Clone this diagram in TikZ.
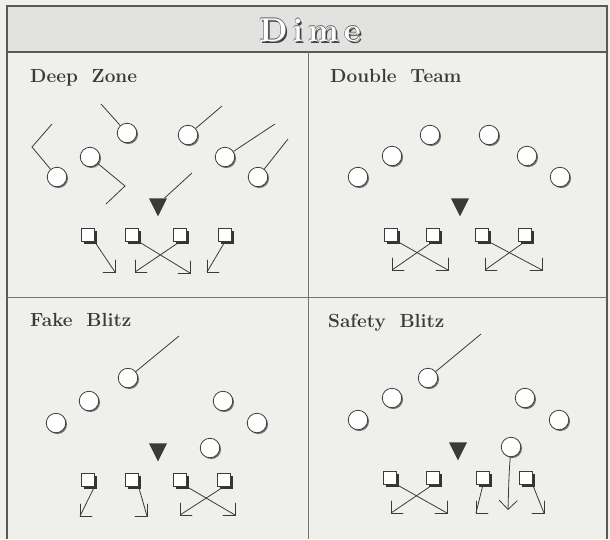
\documentclass[tikz,border=0pt]{standalone}
\usepackage{tikz}
\usetikzlibrary{arrows.meta,shadows,shapes.geometric,positioning}
\definecolor{papel}{HTML}{EFEFEC}
\definecolor{banda}{HTML}{E2E2E0}
\definecolor{tinta}{HTML}{3A3A3A}
\tikzset{
  marco/.style={draw=black!65,line width=1.4pt},
  linea/.style={draw=black!55,line width=0.8pt},
  defensa/.style={circle,draw=tinta,fill=white,line width=0.8pt,minimum size=19.5pt,inner sep=0pt,
    drop shadow={shadow xshift=1.3pt,shadow yshift=-1.3pt,fill=black!55,opacity=1}},
  ataque/.style={rectangle,draw=tinta,fill=white,line width=0.6pt,minimum size=12.5pt,inner sep=0pt,
    drop shadow={shadow xshift=2.4pt,shadow yshift=-2.4pt,fill=black!80,opacity=1}},
  centro/.style={isosceles triangle,isosceles triangle apex angle=53,isosceles triangle stretches,
    shape border rotate=-90,fill=tinta,inner sep=0pt,minimum width=18pt,minimum height=18pt},
  ruta/.style={draw=tinta,line width=0.8pt},
  flecha/.style={ruta,-{Straight Barb[length=9pt,width=18pt,line width=0.8pt]}},
  punta/.pic={\draw[ruta,line cap=round] (-12,0) -- (0,0) -- (0,-12);},
  jugada/.style={font=\bfseries\fontsize{19}{21}\selectfont,text=tinta,anchor=base west,inner sep=0pt},
  dime/.style={font=\bfseries\fontsize{33}{36}\selectfont,inner sep=0pt}
}
\newcommand{\dimetext}{D\hspace{5pt}i\hspace{5pt}m\hspace{5pt}e}

\begin{document}
\begin{tikzpicture}[x=1pt,y=-1pt]
\useasboundingbox (0,0) rectangle (610,539);
\fill[papel] (0,0) rectangle (610,539);
\fill[banda] (7,6) rectangle (607,52);
\draw[marco] (7,539) -- (7,6) -- (607,6) -- (607,539);
\draw[marco] (7,52) -- (607,52);
\draw[linea] (7,297) -- (607,297);
\draw[linea] (308,52) -- (308,539);

\node[dime,text=black!75,xshift=1.8pt,yshift=-1.8pt] (dimesombra) at (310,30) {\dimetext};
\foreach \i/\dx/\dy in {1/0.6/0,2/-0.6/0,3/0/0.6,4/0/-0.6}
  \node[dime,text=black!60,xshift=\dx pt,yshift=\dy pt] (dimeborde\i) at (310,30) {\dimetext};
\node[dime,text=white] (dimetitulo) at (310,30) {\dimetext};

\node[jugada] (tdz) at (30,82) {Deep\hspace{0.35em} Zone};
\node[jugada] (tdt) at (330,82) {Double\hspace{0.35em} Team};
\node[jugada] (tfb) at (30,326) {Fake\hspace{0.35em} Blitz};
\node[jugada] (tsb) at (328,327) {Safety\hspace{0.35em} Blitz};

\foreach \n/\x/\y in {dz1/57/177,dz2/90/157,dz3/127/133,dz4/188/135,dz5/225/157,dz6/258/177,
                      dt1/358/177,dt2/392/156,dt3/430/135,dt4/489/135,dt5/527/156,dt6/560/177,
                      fb1/56/423,fb2/89/401,fb3/128/378,fb4/223/401,fb5/257/423,fb6/210/448,
                      sb1/358/420,sb2/392/398,sb3/428/378,sb4/525/398,sb5/559/420,sb6/511/447}
  \node[defensa] (\n) at (\x,\y) {};
\foreach \n/\x/\y in {dzc/158/204,dtc/460/204,fbc/158/449,sbc/458/448}
  \node[centro] (\n) at (\x,\y) {};
\foreach \n/\x/\y in {dzs1/88/235,dzs2/132/235,dzs3/180/235,dzs4/225/235,
                      dts1/391/235,dts2/433/235,dts3/482/235,dts4/525/235,
                      fbs1/88/480,fbs2/132/480,fbs3/180/480,fbs4/224/480,
                      sbs1/390/478,sbs2/433/478,sbs3/483/478,sbs4/526/478}
  \node[ataque] (\n) at (\x,\y) {};

\foreach \n/\x/\y in {dzk1/32/147,dze1/52/124,dzk2/125/186,dze2/106/204,dze3/101/104,
                      dze4/222/106,dze5/275/124,dze6/288/139,dzec/192/173,
                      fbe3/179/336,sbe3/481/334,sbk6/509/474,sbe6/508/510}
  \coordinate (\n) at (\x,\y);
\draw[ruta] (dz1) -- (dzk1) -- (dze1);
\draw[ruta] (dz2) -- (dzk2) -- (dze2);
\foreach \n in {3,4,5,6}
  \draw[ruta] (dz\n) -- (dze\n);
\draw[ruta] (dzc) -- (dzec);
\draw[ruta] (fb3) -- (fbe3);
\draw[ruta] (sb3) -- (sbe3);
\draw[flecha] (sb6) .. controls (sbk6) .. (sbe6);

\foreach \n/\x/\y in {dzf1/115/272,dzf2/190/273,dzf3/135/272,dzf4/207/272,
                      dtf1/448/270,dtf2/392/270,dtf3/542/270,dtf4/485/270,
                      fbf1/80/516,fbf2/147/516,fbf3/235/515,fbf4/180/515,
                      sbf1/447/513,sbf2/391/513,sbf3/476/513,sbf4/544/513}
  \coordinate (\n) at (\x,\y);
\foreach \p/\n/\s/\a in {dz/1/1/south east,dz/2/1/south east,dz/3/-1/south,dz/4/-1/south,
                         dt/1/1/south east,dt/2/-1/south,dt/3/1/south east,dt/4/-1/south,
                         fb/1/-1/south east,fb/2/1/south east,fb/3/1/south east,fb/4/-1/south,
                         sb/1/1/south east,sb/2/-1/south,sb/3/-1/south,sb/4/1/south east}{
  \draw[ruta] (\p s\n.\a) -- (\p f\n);
  \pic[xscale=\s] at (\p f\n) {punta};
}
\end{tikzpicture}
\end{document}
